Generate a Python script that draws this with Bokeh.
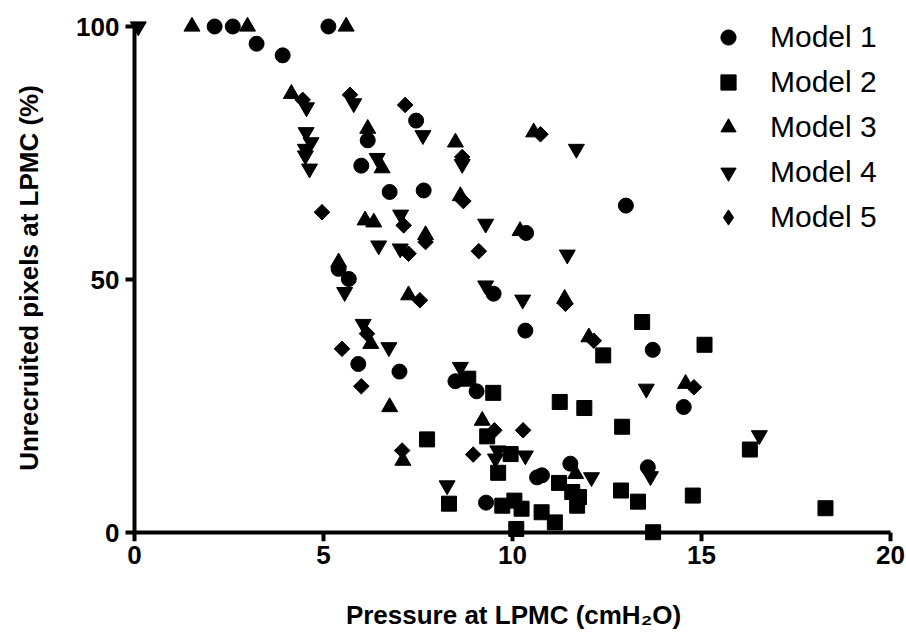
import numpy as np
from bokeh.plotting import figure
from bokeh.models import Range1d, Legend, LegendItem, FixedTicker, LinearAxis
from bokeh.embed import file_html
from bokeh.resources import INLINE

# ---------------- data ----------------
model1_x = [2.12, 2.6, 5.13, 3.23, 3.92, 7.45, 6.17, 6.0, 6.75, 7.65, 13.0, 10.36, 5.4, 5.67,
            9.5, 10.34, 13.71, 5.92, 7.01, 8.49, 9.05, 14.53, 11.53, 10.65, 10.78, 13.58, 9.3]
model1_y = [100, 100, 100, 96.6, 94.3, 81.4, 77.5, 72.5, 67.3, 67.6, 64.6, 59.2, 52.1, 50.1,
            47.2, 39.9, 36.1, 33.3, 31.8, 29.9, 27.9, 24.8, 13.6, 10.9, 11.3, 12.9, 5.9]

model2_x = [13.43, 12.4, 15.08, 8.83, 9.49, 11.25, 11.9, 12.9, 7.74, 9.33, 9.95, 9.62, 11.23,
            11.58, 11.76, 11.71, 12.87, 13.32, 16.28, 8.32, 9.73, 10.05, 10.24, 10.77, 11.12,
            10.1, 13.72, 14.77, 18.28]
model2_y = [41.6, 35.0, 37.1, 30.4, 27.6, 25.8, 24.6, 20.9, 18.4, 19.0, 15.5, 11.8, 9.8,
            8.0, 7.0, 5.3, 8.3, 6.1, 16.4, 5.7, 5.3, 6.3, 4.7, 4.0, 2.0,
            0.7, 0.05, 7.3, 4.8]

model3_x = [1.52, 2.99, 5.6, 4.15, 6.17, 8.49, 10.56, 6.55, 8.62, 6.1, 6.33, 7.7, 10.2, 5.4,
            7.25, 11.38, 6.25, 12.02, 6.75, 14.58, 9.2, 7.1, 11.67]
model3_y = [100, 100, 100, 86.7, 79.8, 77.1, 79.1, 72.0, 66.5, 61.7, 61.3, 58.8, 59.6, 53.4,
            46.9, 46.2, 37.3, 38.6, 24.8, 29.4, 22.1, 14.2, 11.6]

model4_x = [0.1, 4.55, 5.8, 7.63, 4.54, 4.67, 4.52, 4.52, 4.63, 6.42, 8.67, 11.69, 7.04, 6.46,
            9.29, 11.45, 5.56, 7.03, 9.29, 10.27, 6.05, 6.73, 8.62, 13.54, 9.61, 9.55, 10.34,
            12.09, 13.65, 8.27, 16.53]
model4_y = [100, 84.0, 84.8, 78.5, 79.1, 77.1, 75.8, 74.5, 71.9, 74.0, 72.8, 75.8, 62.8, 56.7,
            61.0, 54.9, 47.5, 56.1, 48.8, 46.0, 41.2, 36.6, 32.7, 28.4, 16.2, 14.6, 15.2,
            10.9, 11.1, 9.3, 19.2]

model5_x = [4.45, 5.7, 7.16, 4.96, 8.67, 8.7, 7.12, 7.25, 7.7, 9.11, 10.74, 7.55, 11.4, 12.15,
            5.49, 6.15, 6.0, 9.52, 10.28, 7.08, 8.96, 14.8]
model5_y = [85.5, 86.5, 84.5, 63.3, 74.2, 65.5, 60.7, 55.1, 57.4, 55.6, 78.7, 45.9, 45.2, 37.9,
            36.3, 39.3, 28.9, 20.2, 20.2, 16.2, 15.4, 28.7]

series_names = ["Model 1", "Model 2", "Model 3", "Model 4", "Model 5"]
x_ticks = [0, 5, 10, 15, 20]
y_ticks = [0, 50, 100]
x_title = "Pressure at LPMC (cmH\u2082O)"
y_title = "Unrecruited pixels at LPMC (%)"

# ---------------- layout ----------------
W, H = 906, 633
L, R, T, B = 122, 2, 14, 92
PX_X, PX_Y = 37.8, 5.06          # pixels per data unit
X0_PX, Y100_PX = 134, 26         # pixel position of x=0 and y=100
fw, fh = W - L - R, H - T - B
xmin = -(X0_PX - L) / PX_X
xmax = xmin + fw / PX_X
ymax = 100 + (Y100_PX - T) / PX_Y
ymin = ymax - fh / PX_Y

FONT = "Liberation Sans"

p = figure(width=W, height=H, x_range=Range1d(xmin, xmax), y_range=Range1d(ymin, ymax),
           output_backend="svg", toolbar_location=None,
           min_border_left=L, min_border_right=R, min_border_top=T, min_border_bottom=B)
p.outline_line_color = None
p.grid.visible = False
p.background_fill_color = "white"
p.border_fill_color = "white"


def style_text_axis(ax):
    ax.axis_line_color = None
    ax.major_tick_out = 0
    ax.major_tick_in = 0
    ax.minor_tick_out = 0
    ax.minor_tick_in = 0
    ax.major_label_text_font = FONT
    ax.major_label_text_font_style = "bold"
    ax.major_label_text_font_size = "26px"
    ax.major_label_text_color = "black"
    ax.axis_label_text_font = FONT
    ax.axis_label_text_font_style = "bold"
    ax.axis_label_text_font_size = "26px"
    ax.axis_label_text_color = "black"


# edge axes: only tick labels (and the x title)
style_text_axis(p.xaxis[0])
style_text_axis(p.yaxis[0])
p.xaxis.ticker = FixedTicker(ticks=x_ticks)
p.xaxis.major_label_standoff = 4
p.xaxis.axis_label = x_title
p.xaxis.axis_label_standoff = 33
p.yaxis.ticker = FixedTicker(ticks=y_ticks)
p.yaxis.major_label_standoff = 3

# y title on its own tick-less axis, centred a little below the axis middle
y_title_centre = 46.2
ytitle_axis = LinearAxis(ticker=FixedTicker(ticks=[]), axis_label=y_title,
                         bounds=(ymin, 2 * y_title_centre - ymin),
                         axis_label_standoff=30, major_label_standoff=0)
style_text_axis(ytitle_axis)
p.add_layout(ytitle_axis, "left")

# axis lines + ticks drawn at the data zero (fixed location)
def line_axis(ticks, bounds):
    ax = LinearAxis(fixed_location=0, ticker=FixedTicker(ticks=ticks), bounds=bounds,
                    axis_line_width=4, axis_line_color="black",
                    major_tick_line_width=4, major_tick_line_color="black",
                    major_tick_in=9, major_tick_out=0, minor_tick_in=0, minor_tick_out=0,
                    major_label_standoff=0, major_label_text_font_size="0px",
                    major_label_overrides={t: "" for t in ticks})
    return ax

p.add_layout(line_axis(y_ticks, (0, 100)), "right")
p.add_layout(line_axis(x_ticks, (0, 20)), "above")

r1 = p.scatter(model1_x, model1_y, marker="circle", size=15, color="black")
r2 = p.scatter(model2_x, model2_y, marker="square", size=15, color="black")
r3 = p.scatter(model3_x, model3_y, marker="triangle", size=16, color="black")
r4 = p.scatter(model4_x, model4_y, marker="inverted_triangle", size=16, color="black")
r5 = p.scatter(model5_x, model5_y, marker="square", size=11, angle=np.pi / 4, color="black")
# legend swatch for the diamonds (legend swatches are drawn unrotated)
r5_key = p.scatter([np.nan], [np.nan], marker="diamond", size=15, color="black")

# legend
frame_bottom = H - B
glyph_cx = 728
text_left = 770
gw, gh, gap = 38, 38, 7
rows = 5
leg = Legend(items=[LegendItem(label=n, renderers=[r])
                    for n, r in zip(series_names, [r1, r2, r3, r4, r5_key])],
             glyph_width=gw, glyph_height=gh, spacing=gap, padding=0, margin=0,
             border_line_color=None, background_fill_alpha=0,
             label_text_font=FONT, label_text_font_size="30px", label_text_color="black",
             label_standoff=text_left - (glyph_cx + gw // 2),
             location=(glyph_cx - gw // 2 - L,
                       frame_bottom - (37 - gh // 2 + rows * gh + (rows - 1) * gap)))
p.add_layout(leg)

open("out.html", "w").write(file_html(p, INLINE))
